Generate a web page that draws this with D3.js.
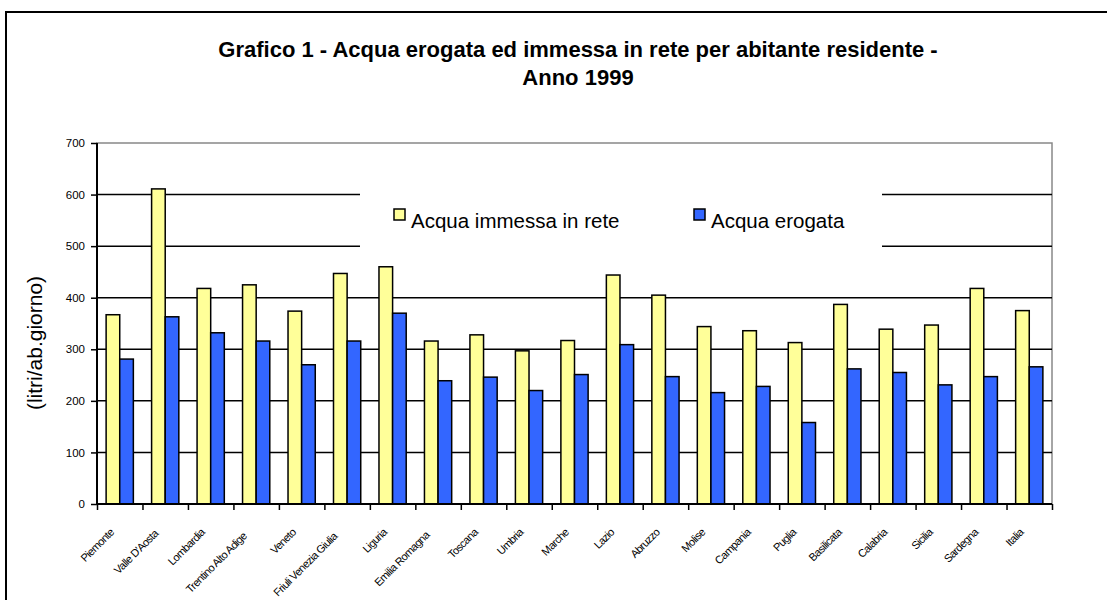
<!DOCTYPE html>
<html>
    <head>
        <title>Acqua erogata ed immessa in rete</title>
        <script src="https://d3js.org/d3.v7.min.js"></script>
        <style>
            body { margin: 0; background: #fff; }
            text { font-family: 'Liberation Sans', Arial, sans-serif; fill: #000; }
            .xlabel { font-size: 11px; letter-spacing: -0.6px; }
            .ytick text { font-size: 11.5px; }
        </style>
    </head>
    <body>
        <div id="chart"></div>
        <script>
            const regions = ['Piemonte', "Valle D'Aosta", 'Lombardia', 'Trentino Alto Adige', 'Veneto', 'Friuli Venezia Giulia', 'Liguria', 'Emilia Romagna', 'Toscana', 'Umbria', 'Marche', 'Lazio', 'Abruzzo', 'Molise', 'Campania', 'Puglia', 'Basilicata', 'Calabria', 'Sicilia', 'Sardegna', 'Italia'];
            const immessa = [367, 611, 418, 425, 374, 447, 460, 316, 328, 297, 317, 444, 405, 344, 336, 313, 387, 339, 347, 418, 375];
            const erogata = [281, 363, 332, 316, 270, 316, 370, 239, 246, 220, 251, 309, 247, 216, 228, 158, 262, 255, 231, 247, 266];
            const seriesNames = ['Acqua immessa in rete', 'Acqua erogata'];
            const seriesColors = ['#FFFF99', '#3366FF'];
            const yTicks = [0, 100, 200, 300, 400, 500, 600, 700];
            const titleLines = ['Grafico 1 - Acqua erogata ed immessa in rete per abitante residente -', 'Anno 1999'];
            const yTitle = '(litri/ab.giorno)';

            const svgWidth = 1107,
                svgHeight = 600;
            const plot = { left: 97, right: 1052, top: 143, bottom: 504 };

            const svg = d3.select('#chart').append('svg').attr('width', svgWidth).attr('height', svgHeight);

            // outer frame
            svg.append('rect').attr('x', 6).attr('y', 12).attr('width', 1120).attr('height', 620)
                .attr('fill', '#fff').attr('stroke', '#000').attr('stroke-width', 2);

            // title
            svg.selectAll('.title')
                .data(titleLines)
                .enter()
                .append('text')
                .attr('class', 'title')
                .attr('x', 578)
                .attr('y', (d, i) => 57 + i * 28)
                .attr('text-anchor', 'middle')
                .style('font-size', '22px')
                .style('font-weight', 'bold')
                .text((d) => d);

            const x = d3.scaleBand().domain(regions).range([plot.left, plot.right]);
            const xSub = d3.scaleBand().domain([0, 1]).range([0, x.bandwidth()]).paddingOuter(0.67);
            const xTick = d3.scaleLinear().domain([0, regions.length]).range([plot.left, plot.right]);
            const y = d3.scaleLinear().domain([0, 700]).range([plot.bottom, plot.top]);

            // plot border
            svg.append('rect')
                .attr('x', plot.left).attr('y', plot.top)
                .attr('width', plot.right - plot.left).attr('height', plot.bottom - plot.top)
                .attr('fill', 'none').attr('stroke', '#888').attr('stroke-width', 1.5);

            // gridlines
            svg.selectAll('.grid')
                .data(yTicks.filter((d) => d > 0 && d < 700))
                .enter()
                .append('line')
                .attr('class', 'grid')
                .attr('x1', plot.left).attr('x2', plot.right)
                .attr('y1', (d) => y(d)).attr('y2', (d) => y(d))
                .attr('stroke', '#000').attr('stroke-width', 1.5);

            // bars
            const groups = svg.selectAll('.group')
                .data(regions)
                .enter()
                .append('g')
                .attr('class', 'group')
                .attr('transform', (d) => `translate(${x(d)},0)`);
            groups.selectAll('rect')
                .data((d, i) => [immessa[i], erogata[i]])
                .enter()
                .append('rect')
                .attr('x', (d, j) => xSub(j))
                .attr('width', xSub.bandwidth())
                .attr('y', (d) => y(d))
                .attr('height', (d) => y(0) - y(d))
                .attr('fill', (d, j) => seriesColors[j])
                .attr('stroke', '#000')
                .attr('stroke-width', 1.5);

            // legend
            const legend = svg.append('g');
            legend.append('rect').attr('x', 360).attr('y', 180).attr('width', 522).attr('height', 76).attr('fill', '#fff');
            const legX = [394, 694];
            seriesNames.forEach((name, i) => {
                legend.append('rect').attr('x', legX[i]).attr('y', 209).attr('width', 11).attr('height', 11)
                    .attr('fill', seriesColors[i]).attr('stroke', '#000').attr('stroke-width', 1.5);
                legend.append('text').attr('x', legX[i] + 17).attr('y', 228).style('font-size', '20.5px').text(name);
            });

            // y axis
            const yAxis = svg.append('g')
                .attr('class', 'ytick')
                .attr('transform', `translate(${plot.left},0)`)
                .call(d3.axisLeft(y).tickValues(yTicks).tickSize(6).tickPadding(6));
            yAxis.selectAll('line').attr('stroke', '#000').attr('stroke-width', 1.5);
            yAxis.select('.domain').attr('stroke', '#000').attr('stroke-width', 2).attr('d', `M0,${plot.top}V${plot.bottom}`);
            yAxis.selectAll('text').style('font-family', "'Liberation Sans', Arial, sans-serif");

            // x axis
            const xAxis = svg.append('g')
                .attr('transform', `translate(0,${plot.bottom})`)
                .call(d3.axisBottom(xTick).tickValues(d3.range(regions.length + 1)).tickFormat('').tickSize(6));
            xAxis.selectAll('line').attr('stroke', '#000').attr('stroke-width', 1.5);
            xAxis.select('.domain').attr('stroke', '#000').attr('stroke-width', 2).attr('d', `M${plot.left},0H${plot.right}`);

            // x labels, rotated
            svg.selectAll('.xlabel')
                .data(regions)
                .enter()
                .append('text')
                .attr('class', 'xlabel')
                .attr('text-anchor', 'end')
                .attr('transform', (d) => `translate(${x(d) + x.bandwidth() / 2 - 5},${plot.bottom + 29}) rotate(-45)`)
                .text((d) => d)
                .attr('dx', function () {
                    const len = this.getComputedTextLength();
                    return -Math.max(0, 0.15 * (len - 45));
                });

            // y title
            svg.append('text')
                .attr('transform', 'translate(42,343) rotate(-90)')
                .attr('text-anchor', 'middle')
                .style('font-size', '21px')
                .text(yTitle);
        </script>
    </body>
</html>
